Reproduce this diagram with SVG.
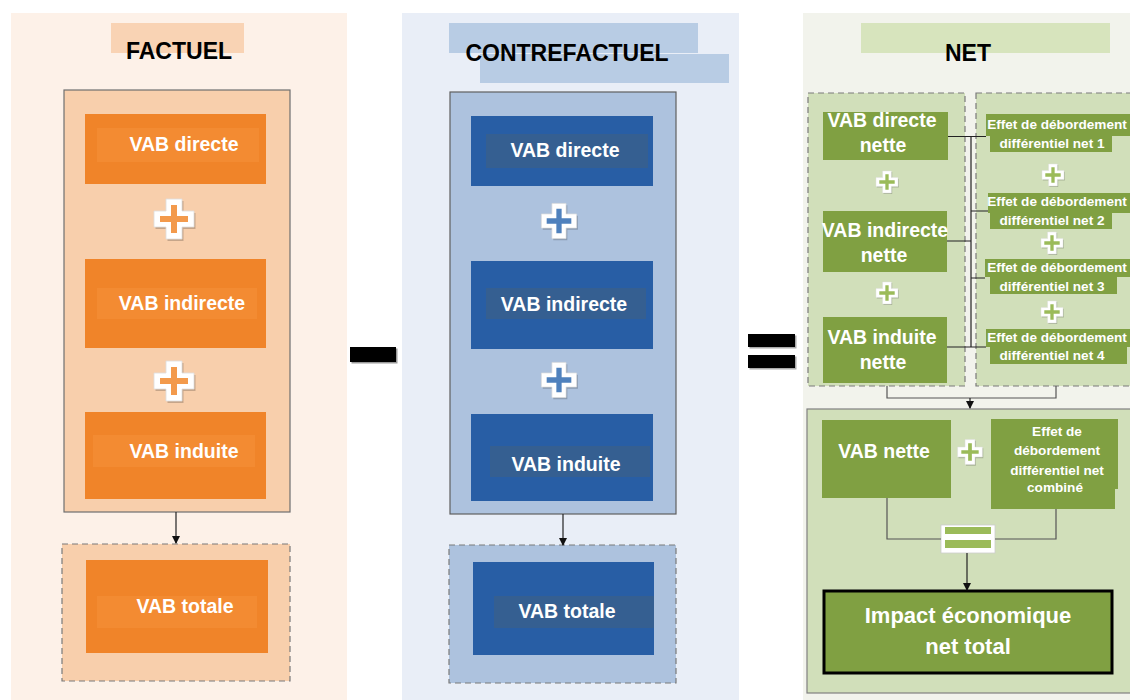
<svg xmlns="http://www.w3.org/2000/svg" xmlns:xlink="http://www.w3.org/1999/xlink" width="1130" height="700" viewBox="0 0 1130 700">
<style>
text{font-family:"Liberation Sans",Arial,sans-serif;font-weight:bold;text-anchor:middle}
.title{font-size:23px;fill:#000}
.lbl{font-size:19.5px;fill:#fff}
.sm{font-size:13.6px;fill:#fff}
.big{font-size:22px;fill:#fff}
.or{fill:#f08429}
.orIn{fill:#f38b32}
.bl{fill:#285ea5}
.blIn{fill:#355f91}
.gr{fill:#80a042}
.dash{stroke:#7a7a7a;stroke-width:1.2;stroke-dasharray:6 4}
.conn{fill:none;stroke:#222;stroke-width:1.2}
.conn2{fill:none;stroke:#555;stroke-width:1.2}
</style>
<defs>
<marker id="ah" markerWidth="8" markerHeight="8" refX="7" refY="4" orient="auto" markerUnits="userSpaceOnUse">
<path d="M0,0 L8,4 L0,8 Z" fill="#111"/>
</marker>
<g id="plus">
<path d="M-8,-20H8V-8H20V8H8V20H-8V8H-20V-8H-8Z" fill="#000" opacity="0.2" transform="translate(1.5,2)"/>
<path d="M-8,-20H8V-8H20V8H8V20H-8V8H-20V-8H-8Z" fill="#fff" stroke="#ddd" stroke-width="0.8"/>
<path d="M-3,-14H3V-3H14V3H3V14H-3V3H-14V-3H-3Z" fill="currentColor"/>
</g>
</defs>

<!-- panels -->
<rect x="11" y="13" width="336" height="687" fill="#fdf1e8"/>
<rect x="402" y="13" width="337" height="687" fill="#e9eef7"/>
<rect x="803" y="13" width="327" height="687" fill="#f2f3ec"/>

<!-- titles -->
<g id="title-factuel">
<rect x="111" y="23" width="133" height="30" fill="#f9d3b4"/>
<text class="title" x="179" y="59">FACTUEL</text>
</g>
<g id="title-contrefactuel">
<rect x="449" y="23" width="249" height="30" fill="#b8cce4"/>
<rect x="480" y="54" width="249" height="29" fill="#b8cce4"/>
<text class="title" x="567" y="61">CONTREFACTUEL</text>
</g>
<g id="title-net">
<rect x="861" y="23" width="249" height="30" fill="#d7e4bd"/>
<text class="title" x="968" y="61">NET</text>
</g>

<!-- operators -->
<g id="minus"><rect x="351.5" y="348.5" width="46" height="15" fill="#999"/><rect x="350" y="347" width="46" height="15" fill="#000"/></g>
<g id="equals">
<rect x="749.5" y="335.5" width="47" height="13" fill="#aaa"/><rect x="748" y="334" width="47" height="13" fill="#000"/>
<rect x="749.5" y="356.5" width="47" height="13" fill="#aaa"/><rect x="748" y="355" width="47" height="13" fill="#000"/>
</g>

<!-- FACTUEL -->
<g id="factuel-sum">
<rect x="64" y="90" width="226" height="422" fill="#f8cfac" stroke="#6f6f6f" stroke-width="1.2"/>
</g>
<g id="f-directe">
<rect class="or" x="85" y="114" width="181" height="70"/>
<rect class="orIn" x="97" y="128" width="162" height="34"/>
<text class="lbl" x="184" y="151">VAB directe</text>
</g>
<use xlink:href="#plus" href="#plus" transform="translate(174,219)" color="#f39a4c"/>
<g id="f-indirecte">
<rect class="or" x="85" y="259" width="181" height="89"/>
<rect class="orIn" x="97" y="288" width="160" height="31"/>
<text class="lbl" x="182" y="310">VAB indirecte</text>
</g>
<use xlink:href="#plus" href="#plus" transform="translate(174,381)" color="#f39a4c"/>
<g id="f-induite">
<rect class="or" x="85" y="412" width="181" height="87"/>
<rect class="orIn" x="93" y="435" width="162" height="32"/>
<text class="lbl" x="184" y="458">VAB induite</text>
</g>
<g id="f-totale">
<rect x="62" y="544" width="228" height="137" fill="#f8cfac" class="dash"/>
<rect class="or" x="86" y="560" width="182" height="93"/>
<rect class="orIn" x="97" y="596" width="160" height="32"/>
<text class="lbl" x="185" y="613">VAB totale</text>
</g>

<!-- CONTREFACTUEL -->
<g id="contrefactuel-sum">
<rect x="450" y="92" width="226" height="422" fill="#adc2de" stroke="#5f5f5f" stroke-width="1.2"/>
</g>
<g id="c-directe">
<rect class="bl" x="471" y="116" width="182" height="70"/>
<rect class="blIn" x="486" y="134" width="162" height="34"/>
<text class="lbl" x="565" y="157">VAB directe</text>
</g>
<use xlink:href="#plus" href="#plus" transform="translate(559,221) scale(0.88)" color="#4f81bd"/>
<g id="c-indirecte">
<rect class="bl" x="471" y="261" width="182" height="88"/>
<rect class="blIn" x="486" y="288" width="160" height="31"/>
<text class="lbl" x="564" y="311">VAB indirecte</text>
</g>
<use xlink:href="#plus" href="#plus" transform="translate(559,380) scale(0.88)" color="#4f81bd"/>
<g id="c-induite">
<rect class="bl" x="471" y="414" width="182" height="87"/>
<rect class="blIn" x="490" y="446" width="160" height="31"/>
<text class="lbl" x="566" y="471">VAB induite</text>
</g>
<g id="c-totale">
<rect x="449" y="545" width="227" height="138" fill="#adc2de" class="dash"/>
<rect class="bl" x="473" y="562" width="181" height="93"/>
<rect class="blIn" x="494" y="596" width="160" height="32"/>
<text class="lbl" x="567" y="618">VAB totale</text>
</g>

<!-- NET -->
<g id="net-left">
<rect x="808" y="93" width="157" height="293" fill="#d1dfba" class="dash"/>
</g>
<g id="net-right">
<rect x="976" y="93" width="160" height="293" fill="#d1dfba" class="dash"/>
</g>
<g id="n-directe">
<rect class="gr" x="823" y="112" width="125" height="48"/>
<text class="lbl" x="882" y="127">VAB directe</text>
<text class="lbl" x="883" y="152">nette</text>
</g>
<use xlink:href="#plus" href="#plus" transform="translate(887,182) scale(0.55)" color="#9bbb59"/>
<g id="n-indirecte">
<rect class="gr" x="823" y="211" width="124" height="61"/>
<text class="lbl" x="885" y="237">VAB indirecte</text>
<text class="lbl" x="884" y="262">nette</text>
</g>
<use xlink:href="#plus" href="#plus" transform="translate(887,293) scale(0.55)" color="#9bbb59"/>
<g id="n-induite">
<rect class="gr" x="823" y="317" width="124" height="66"/>
<text class="lbl" x="882" y="344">VAB induite</text>
<text class="lbl" x="883" y="369">nette</text>
</g>

<g id="e1">
<rect class="gr" x="986" y="114" width="144" height="22"/>
<rect class="gr" x="990" y="136" width="122" height="16"/>
<text class="sm" x="1057" y="129">Effet de débordement</text>
<text class="sm" x="1052" y="148">différentiel net 1</text>
</g>
<use xlink:href="#plus" href="#plus" transform="translate(1053,175) scale(0.55)" color="#9bbb59"/>
<g id="e2">
<rect class="gr" x="988" y="193" width="142" height="20"/>
<rect class="gr" x="990" y="213" width="122" height="16"/>
<text class="sm" x="1057" y="206">Effet de débordement</text>
<text class="sm" x="1052" y="225">différentiel net 2</text>
</g>
<use xlink:href="#plus" href="#plus" transform="translate(1052,243) scale(0.55)" color="#9bbb59"/>
<g id="e3">
<rect class="gr" x="985" y="259" width="145" height="18"/>
<rect class="gr" x="990" y="277" width="127" height="17"/>
<text class="sm" x="1057" y="272">Effet de débordement</text>
<text class="sm" x="1052" y="291">différentiel net 3</text>
</g>
<use xlink:href="#plus" href="#plus" transform="translate(1052,312) scale(0.55)" color="#9bbb59"/>
<g id="e4">
<rect class="gr" x="986" y="329" width="144" height="18"/>
<rect class="gr" x="990" y="347" width="137" height="17"/>
<text class="sm" x="1057" y="342">Effet de débordement</text>
<text class="sm" x="1052" y="360">différentiel net 4</text>
</g>

<g id="net-bottom">
<rect x="807" y="409" width="330" height="284" fill="#d1dfba" stroke="#808080" stroke-width="1.2"/>
</g>
<g id="n-vabnette">
<rect class="gr" x="822" y="420" width="129" height="78"/>
<text class="lbl" x="884" y="458">VAB nette</text>
</g>
<use xlink:href="#plus" href="#plus" transform="translate(970,452) scale(0.62)" color="#9bbb59"/>
<g id="n-combine">
<rect class="gr" x="991" y="419" width="127" height="70"/>
<rect class="gr" x="991" y="485" width="124" height="24"/>
<text class="sm" x="1057" y="436">Effet de</text>
<text class="sm" x="1057" y="455">débordement</text>
<text class="sm" x="1057" y="475">différentiel net</text>
<text class="sm" x="1055" y="492">combiné</text>
</g>
<g id="n-equals">
<rect x="941" y="525" width="54" height="28" fill="#fff" stroke="#ccc" stroke-width="0.8"/>
<rect x="945" y="527" width="46" height="7" fill="#9bbb59"/>
<rect x="945" y="540" width="46" height="8" fill="#9bbb59"/>
</g>
<g id="n-impact">
<rect x="824" y="591" width="288" height="82" fill="#80a042" stroke="#000" stroke-width="3"/>
<text class="big" x="968" y="623">Impact économique</text>
<text class="big" x="968" y="654">net total</text>
</g>

<!-- connectors -->
<g id="connectors">
<path class="conn" d="M176,512 V543" marker-end="url(#ah)"/>
<path class="conn" d="M563,514 V545" marker-end="url(#ah)"/>
<path class="conn" d="M948,136.5 H986 M947,241 H971 M947,347 H986 M971,136.5 V347 M971,211 H988 M971,278 H985"/>
<path class="conn2" d="M887,386 V398 H1056 V386"/>
<path class="conn" d="M970,398 V408" marker-end="url(#ah)"/>
<path class="conn2" d="M887,498 V539 H941 M995,539 H1056 V509"/>
<path class="conn" d="M967,553 V590" marker-end="url(#ah)"/>
</g>
</svg>
